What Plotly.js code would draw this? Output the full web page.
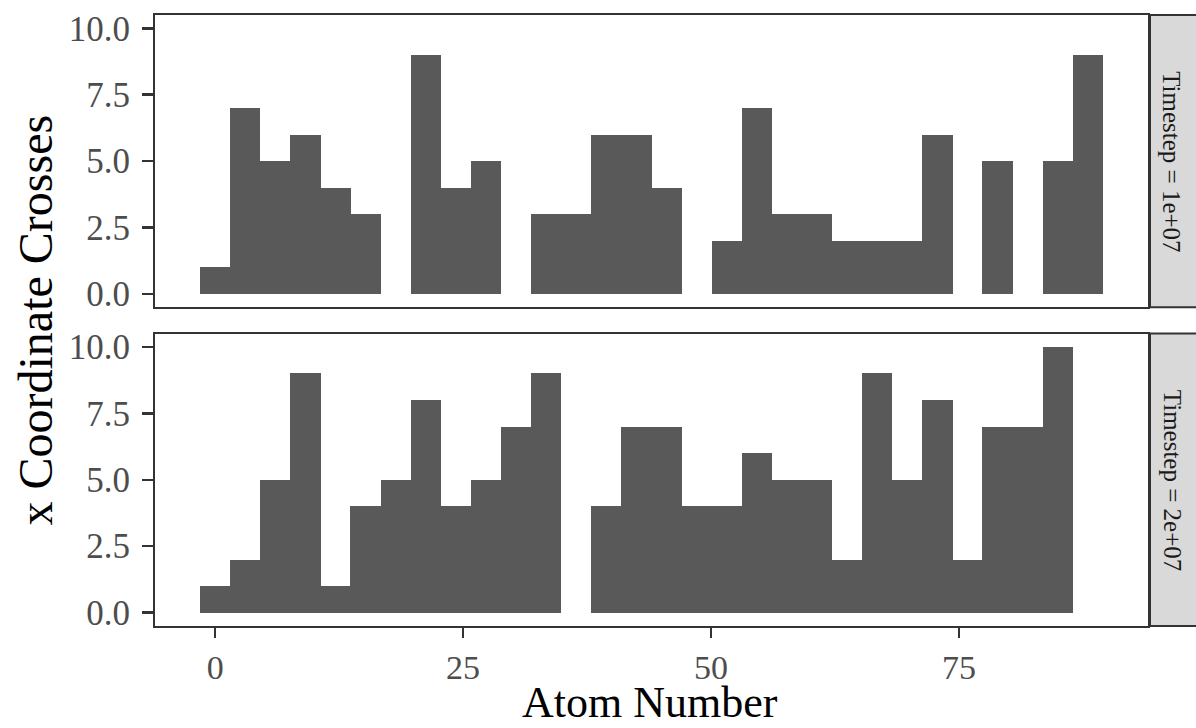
<!DOCTYPE html>
<html>
<head>
<meta charset="utf-8">
<script src="https://cdn.plot.ly/plotly-3.0.1.min.js"></script>
<style>
  html, body { margin: 0; padding: 0; background: #ffffff; }
  #chart { width: 1196px; height: 728px; }
</style>
</head>
<body>
<div id="chart"></div>
<script>
// Bin centres (Atom Number)
const binCenters = [0, 3.03, 6.07, 9.10, 12.14, 15.17, 18.21, 21.24, 24.28, 27.31,
                    30.34, 33.38, 36.41, 39.45, 42.48, 45.52, 48.55, 51.59, 54.62, 57.66,
                    60.69, 63.72, 66.76, 69.79, 72.83, 75.86, 78.90, 81.93, 84.97, 88.00];
// x Coordinate Crosses, Timestep = 1e+07
const crosses1e7 = [1, 7, 5, 6, 4, 3, 0, 9, 4, 5,
                    0, 3, 3, 6, 6, 4, 0, 2, 7, 3,
                    3, 2, 2, 2, 6, 0, 5, 0, 5, 9];
// x Coordinate Crosses, Timestep = 2e+07
const crosses2e7 = [1, 2, 5, 9, 1, 4, 5, 8, 4, 5,
                    7, 9, 0, 4, 7, 7, 4, 4, 6, 5,
                    5, 2, 9, 5, 8, 2, 7, 7, 10, 0];
const facetLabels = ["Timestep = 1e+07", "Timestep = 2e+07"];
const xTickVals = [0, 25, 50, 75];
const yTickVals = [0, 2.5, 5, 7.5, 10];
const yTickText = ["0.0", "2.5", "5.0", "7.5", "10.0"];

const FONT = "'Liberation Serif', 'Times New Roman', serif";
const barColor = "#595959";
const barWidth = 3.065; // slightly wider than the bin so neighbouring bars leave no seam

const traces = [
  { type: "bar", x: binCenters, y: crosses1e7, xaxis: "x2", yaxis: "y2",
    width: barWidth, marker: { color: barColor, line: { width: 0 } }, hoverinfo: "x+y" },
  { type: "bar", x: binCenters, y: crosses2e7, xaxis: "x", yaxis: "y",
    width: barWidth, marker: { color: barColor, line: { width: 0 } }, hoverinfo: "x+y" }
];

const axisLine = { showline: true, linecolor: "#333333", linewidth: 2, mirror: true,
                   showgrid: false, zeroline: false };
const yAxisCommon = Object.assign({}, axisLine, {
  range: [-0.5, 10.5], tickvals: yTickVals, ticktext: yTickText,
  ticks: "outside", ticklen: 11, tickwidth: 2.5, tickcolor: "#333333",
  tickfont: { family: FONT, size: 35, color: "#4D4D4D" }, ticklabelstandoff: 5
});

const W = 993; // plot width in px
const H = 611;
const stripX0 = 1 + (1150 - 1148) / W;
const stripX1 = 1 + (1200 - 1148) / W;
const stripXc = 1 + (1172 - 1148) / W;

const layout = {
  width: 1196, height: 728,
  margin: { l: 155, r: 48, t: 15, b: 102, pad: 0 },
  paper_bgcolor: "#ffffff", plot_bgcolor: "#ffffff",
  showlegend: false, bargap: 0,
  font: { family: FONT, color: "#1A1A1A" },
  xaxis: Object.assign({}, axisLine, {
    domain: [0, 1], anchor: "y", range: [-6.07, 94.07],
    tickvals: xTickVals, ticks: "outside", ticklen: 10, tickwidth: 2.5, tickcolor: "#333333",
    tickfont: { family: FONT, size: 34, color: "#4D4D4D" }
  }),
  xaxis2: Object.assign({}, axisLine, {
    domain: [0, 1], anchor: "y2", matches: "x", range: [-6.07, 94.07],
    showticklabels: false, ticks: ""
  }),
  yaxis: Object.assign({}, yAxisCommon, { domain: [0, 0.4786], anchor: "x" }),
  yaxis2: Object.assign({}, yAxisCommon, { domain: [0.5216, 1], anchor: "x2" }),
  shapes: [
    { type: "rect", xref: "paper", yref: "y2 domain", x0: stripX0, x1: stripX1, y0: 0, y1: 1,
      fillcolor: "#D9D9D9", line: { color: "#333333", width: 2 }, layer: "below" },
    { type: "rect", xref: "paper", yref: "y domain", x0: stripX0, x1: stripX1, y0: 0, y1: 1,
      fillcolor: "#D9D9D9", line: { color: "#333333", width: 2 }, layer: "below" }
  ],
  annotations: [
    { text: facetLabels[0], xref: "paper", yref: "y2 domain", x: stripXc, y: 0.5,
      xanchor: "center", yanchor: "middle", textangle: 90, showarrow: false,
      font: { family: FONT, size: 25, color: "#1A1A1A" } },
    { text: facetLabels[1], xref: "paper", yref: "y domain", x: stripXc, y: 0.5,
      xanchor: "center", yanchor: "middle", textangle: 90, showarrow: false,
      font: { family: FONT, size: 25, color: "#1A1A1A" } },
    { text: "Atom Number", xref: "paper", yref: "paper", x: (650 - 155) / W, y: -(703 - 626) / H,
      xanchor: "center", yanchor: "middle", showarrow: false,
      font: { family: FONT, size: 44, color: "#000000" } },
    { text: "x Coordinate Crosses", xref: "paper", yref: "paper", x: (35 - 155) / W, y: 0.5,
      xanchor: "center", yanchor: "middle", textangle: -90, showarrow: false,
      font: { family: FONT, size: 48, color: "#000000" } }
  ]
};

Plotly.newPlot("chart", traces, layout, { displayModeBar: false, staticPlot: true });
</script>
</body>
</html>
